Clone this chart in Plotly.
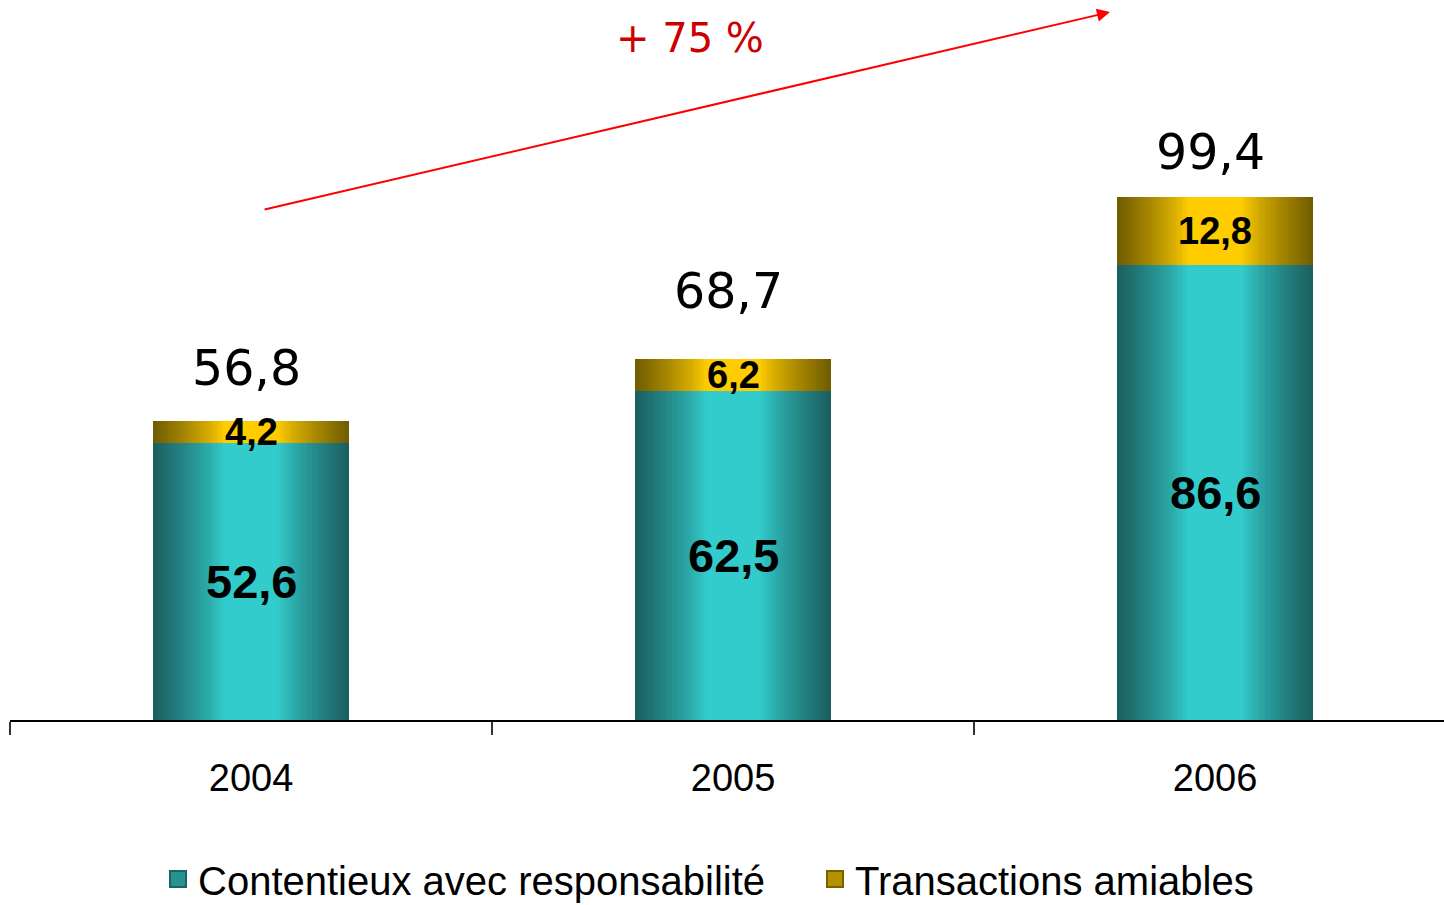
import plotly.graph_objects as go

# Chart values
years = ["2004", "2005", "2006"]
contentieux = [52.6, 62.5, 86.6]
transactions = [4.2, 6.2, 12.8]
totals = [56.8, 68.7, 99.4]
growth_label = "+ 75 %"
series_names = ["Contentieux avec responsabilité", "Transactions amiables"]

# Styling
BAR_WIDTH = 0.405
LAYERS = 40
TEAL_DARK, TEAL_LIGHT = (27, 94, 94), (51, 204, 204)
GOLD_DARK, GOLD_LIGHT = (112, 92, 0), (255, 204, 0)
total_label_lift = [53, 67, 45]  # pixels above each bar top


def fr(v):
    return f"{v:.1f}".replace(".", ",")


def shade(dark, light, d):
    """Colour of the cylinder shading at normalised distance d from the bar centre."""
    t = 0.0 if d <= 0.28 else min(1.0, (d - 0.28) / 0.72)
    t = t ** 0.8
    c = [round(l + (dk - l) * t) for dk, l in zip(dark, light)]
    return f"rgb({c[0]},{c[1]},{c[2]})"


fig = go.Figure()

# Each bar is built from concentric layers of decreasing width to give a
# horizontal cylinder-like gradient (dark edges, light centre).
for values, base, dark, light in [
    (contentieux, None, TEAL_DARK, TEAL_LIGHT),
    (transactions, contentieux, GOLD_DARK, GOLD_LIGHT),
]:
    for i in range(LAYERS):
        frac = (LAYERS - i) / LAYERS
        d = (LAYERS - i - 0.5) / LAYERS
        fig.add_trace(go.Bar(
            x=years, y=values, base=base,
            width=BAR_WIDTH * frac,
            marker=dict(color=shade(dark, light, d), line=dict(width=0)),
            showlegend=False, hoverinfo="skip",
        ))

# legend entries
for name, dark, light, lw in [
    (series_names[0], TEAL_DARK, TEAL_LIGHT, 612),
    (series_names[1], GOLD_DARK, GOLD_LIGHT, None),
]:
    fig.add_trace(go.Scatter(
        x=[None], y=[None], mode="markers", name=name, legendwidth=lw,
        marker=dict(symbol="square", size=16, color=shade(dark, light, 0.6),
                    line=dict(width=2, color=shade(dark, light, 0.95))),
    ))

annotations = []
# segment values, centred in each segment
for i, (c, t) in enumerate(zip(contentieux, transactions)):
    annotations.append(dict(
        x=i, y=c / 2, text=f"<b>{fr(c)}</b>", showarrow=False,
        font=dict(family="Liberation Sans, Arial", size=47, color="black"),
        xanchor="center", yanchor="middle",
    ))
    annotations.append(dict(
        x=i, y=c + t / 2, text=f"<b>{fr(t)}</b>", showarrow=False,
        font=dict(family="Liberation Sans, Arial", size=38, color="black"),
        xanchor="center", yanchor="middle",
    ))
# totals above the bars
for i, (tot, lift) in enumerate(zip(totals, total_label_lift)):
    annotations.append(dict(
        x=i, y=tot, text=fr(tot), showarrow=False, yshift=lift, xshift=-5,
        font=dict(family="DejaVu Sans, Verdana", size=49, color="black"),
        xanchor="center", yanchor="middle",
    ))

# growth arrow from the first to the last year
annotations.append(dict(
    x=1.782, y=134.6, ax=0.025, ay=97.0,
    xref="x", yref="y", axref="x", ayref="y",
    text="", showarrow=True, arrowhead=2, arrowsize=1.3, arrowwidth=2,
    arrowcolor="#ff0000",
))
annotations.append(dict(
    x=(690 - 10) / 1434, y=(720 - 38) / 720, xref="paper", yref="paper",
    text=growth_label, showarrow=False,
    font=dict(family="DejaVu Sans, Verdana", size=40, color="#cc0000"),
    xanchor="center", yanchor="middle",
))

fig.update_layout(
    width=1444, height=905,
    margin=dict(l=10, r=0, t=0, b=185, autoexpand=False),
    paper_bgcolor="white", plot_bgcolor="white",
    barmode="overlay", bargap=0,
    showlegend=True,
    legend=dict(
        orientation="h", x=(158 - 10) / 1434, xanchor="left",
        y=(720 - 879) / 720, yanchor="middle",
        font=dict(family="Liberation Sans, Arial", size=40, color="black"),
        traceorder="normal", bgcolor="rgba(0,0,0,0)",
    ),
    annotations=annotations,
    xaxis=dict(
        type="category", range=[-0.5, 2.475],
        showline=True, linecolor="black", linewidth=2,
        ticks="outside", tickson="boundaries", ticklen=13,
        tickcolor="#333333", tickwidth=2, ticklabelstandoff=23,
        tickfont=dict(family="Liberation Sans, Arial", size=38, color="black"),
        showgrid=False, zeroline=False, fixedrange=True,
    ),
    yaxis=dict(range=[0, 136.9], visible=False, fixedrange=True),
)

fig.write_html("out.html")
